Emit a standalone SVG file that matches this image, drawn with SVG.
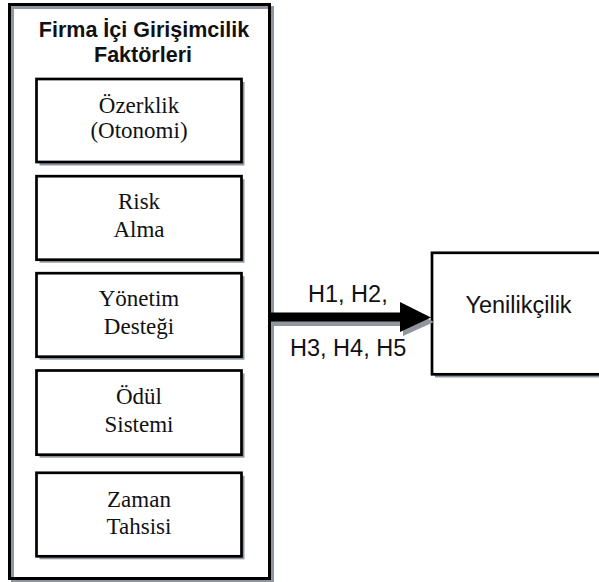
<svg xmlns="http://www.w3.org/2000/svg" width="599" height="582" viewBox="0 0 599 582">
  <style>
    .shadow { fill: #8f969e; stroke: none; }
    .shadowline { fill: none; stroke: #8f969e; stroke-width: 3; }
    .box { fill: #ffffff; stroke: #000000; stroke-width: 2.7; }
    .outer { fill: none; stroke: #000000; stroke-width: 3; }
    .serif { font-family: "Liberation Serif", "Times New Roman", serif; font-size: 23px; fill: #111111; text-anchor: middle; }
    .sans { font-family: "Liberation Sans", Arial, sans-serif; font-size: 23.5px; fill: #111111; }
    .title { font-family: "Liberation Sans", Arial, sans-serif; font-size: 21.5px; font-weight: bold; fill: #111111; text-anchor: middle; }
  </style>
  <rect width="599" height="582" fill="#ffffff"/>

  <g id="firma-ici-girisimcilik">
    <rect class="shadowline" x="12.5" y="7.5" width="260" height="574"/>
    <rect class="outer" x="9.5" y="4.5" width="260" height="574"/>
    <text class="title" x="144" y="37">Firma İçi Girişimcilik</text>
    <text class="title" x="143" y="62">Faktörleri</text>
  </g>

  <g id="ozerklik">
    <rect class="shadow" x="39.5" y="82" width="205" height="83.5"/>
    <rect class="box" x="36.5" y="79" width="205" height="83"/>
    <text class="serif" x="139" y="112.5">Özerklik</text>
    <text class="serif" x="139" y="137.5">(Otonomi)</text>
  </g>

  <g id="risk-alma">
    <rect class="shadow" x="39.5" y="179.2" width="205" height="83.5"/>
    <rect class="box" x="36.5" y="176.2" width="205" height="83.5"/>
    <text class="serif" x="139" y="209.3">Risk</text>
    <text class="serif" x="139" y="237.3">Alma</text>
  </g>

  <g id="yonetim-destegi">
    <rect class="shadow" x="39.5" y="276.2" width="205" height="83.5"/>
    <rect class="box" x="36.5" y="273.2" width="205" height="83.5"/>
    <text class="serif" x="139" y="306.3">Yönetim</text>
    <text class="serif" x="139" y="334">Desteği</text>
  </g>

  <g id="odul-sistemi">
    <rect class="shadow" x="39.5" y="373.5" width="205" height="84.2"/>
    <rect class="box" x="36.5" y="370.5" width="205" height="84.2"/>
    <text class="serif" x="139" y="404">Ödül</text>
    <text class="serif" x="139" y="431.5">Sistemi</text>
  </g>

  <g id="zaman-tahsisi">
    <rect class="shadow" x="39.5" y="475.8" width="205" height="83.5"/>
    <rect class="box" x="36.5" y="472.8" width="205" height="83.5"/>
    <text class="serif" x="139" y="506.7">Zaman</text>
    <text class="serif" x="139" y="534">Tahsisi</text>
  </g>

  <g id="yenilikcilik">
    <rect class="shadow" x="435" y="256" width="172" height="121.5"/>
    <rect class="box" x="432" y="252.8" width="172" height="121.5"/>
    <text class="sans" x="518.5" y="313.3" text-anchor="middle" font-size="24">Yenilikçilik</text>
  </g>

  <g id="connectors">
    <polygon class="shadow" points="274,316.5 403,316.5 403,306 434,322 403,336 403,326 274,326"/>
    <polygon fill="#000000" points="271,312.5 400,312.5 400,302 431,317.5 400,332 400,321.5 271,321.5"/>
    <text class="sans" x="308" y="302">H1, H2,</text>
    <text class="sans" x="290" y="356">H3, H4, H5</text>
  </g>
</svg>
